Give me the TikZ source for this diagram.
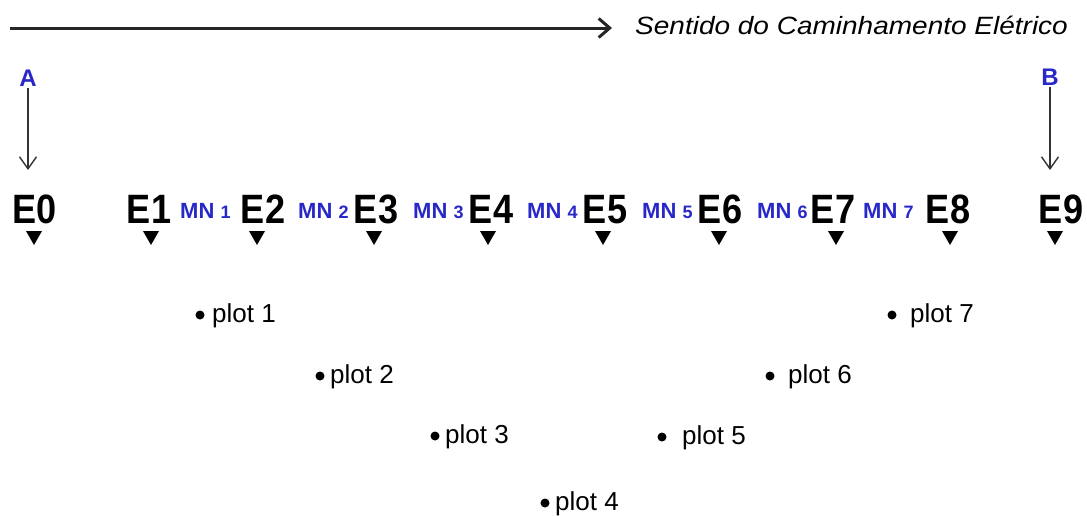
\documentclass[tikz,border=0pt]{standalone}
\usepackage{fontspec}
\setmainfont{Liberation Sans}
\usetikzlibrary{arrows.meta}
\definecolor{mnblue}{RGB}{40,40,200}
\newcommand{\Elab}[1]{\scalebox{0.88}[1]{\fontsize{41}{41}\selectfont\bfseries #1}}
\newcommand{\MNlab}[1]{{\fontsize{22}{22}\selectfont MN }{\fontsize{18}{18}\selectfont #1}}
\begin{document}
\begin{tikzpicture}[x=1pt,y=-1pt,
  elab/.style={anchor=base,inner sep=0pt},
  mnlab/.style={anchor=base west,inner sep=0pt,text=mnblue,font=\bfseries},
  ablab/.style={anchor=base,inner sep=0pt,text=mnblue,font=\fontsize{24}{24}\selectfont\bfseries},
  plotlab/.style={anchor=base west,inner sep=0pt,font=\fontsize{26}{26}\selectfont},
  dotnode/.style={circle,fill=black,inner sep=0pt,minimum size=9pt},
  tri/.style={fill=black},
  vert/.style={draw=black!80,line width=1.4pt,-{Straight Barb[length=12pt,width=17pt]}},
  dirarrow/.style={draw=black!85,line width=3pt,-{Straight Barb[length=11pt,width=19pt]}}
]
\useasboundingbox (0,0) rectangle (1087,515);

% top direction arrow
\coordinate (ts) at (10,28);
\coordinate (te) at (612,28);
\draw[dirarrow] (ts) -- (te);
\node[anchor=base west,inner sep=0pt] (sent) at (635,34)
  {\scalebox{1.12}[1]{\fontsize{25}{25}\selectfont\itshape Sentido do Caminhamento Elétrico}};

% A and B
\node[ablab] (A) at (28,86) {A};
\node[ablab] (B) at (1050,85) {B};
\coordinate (aend) at (28,170);
\coordinate (bend) at (1050,170);
\draw[vert,shorten <=2pt] (A.south) -- (aend);
\draw[vert,shorten <=2pt] (B.south) -- (bend);

% electrodes
\foreach \n/\x in {0/35,1/149,2/263,3/376,4/491,5/605,6/720,7/833,8/948,9/1061}{
  \node[elab] (E\n) at (\x,223) {\Elab{E\n}};
}
\foreach \n/\x in {0/34,1/151,2/257,3/374,4/488,5/603,6/719,7/836,8/950,9/1055}{
  \fill[tri] (\x-8,231) -- (\x+8,231) -- (\x,245) -- cycle;
}

% MN labels
\foreach \n/\x in {1/180,2/298,3/413,4/527,5/642,6/757,7/863}{
  \node[mnlab] (MN\n) at (\x,218) {\MNlab{\n}};
}

% plots
\foreach \n/\dx/\dy/\tx in {1/200/315/212,2/320/376/330,3/435/436/445,4/545/503/555,5/662/437/682,6/770/376/788,7/892/315/910}{
  \node[dotnode] (d\n) at (\dx,\dy) {};
  \node[plotlab] (p\n) at (\tx,\dy+7) {plot \n};
}
\end{tikzpicture}
\end{document}
